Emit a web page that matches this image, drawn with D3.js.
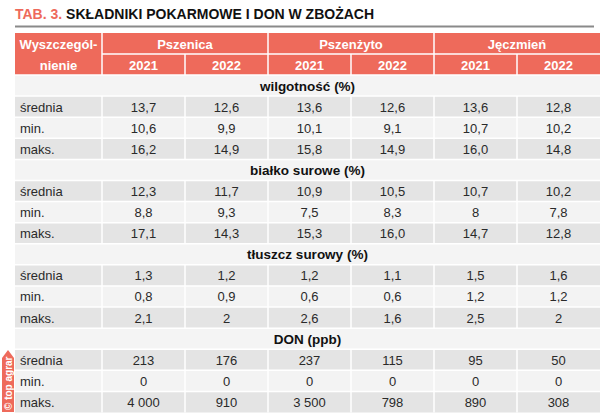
<!DOCTYPE html>
<html><head><meta charset="utf-8">
<script src="https://cdn.jsdelivr.net/npm/d3@7"></script>
<style>body{margin:0;background:#fff}svg{display:block}</style>
</head><body>
<svg id="c" width="600" height="415"></svg>
<script>
const titlePrefix = "TAB. 3.";
const titleText = "SKŁADNIKI POKARMOWE I DON W ZBOŻACH";
const firstHeader = ["Wyszczegól-", "nienie"];
const groups = ["Pszenica", "Pszenżyto", "Jęczmień"];
const years = ["2021", "2022"];
const sections = ["wilgotność (%)", "białko surowe (%)", "tłuszcz surowy (%)", "DON (ppb)"];
const stats = ["średnia", "min.", "maks."];
const wilgotnosc = [
  ["13,7","12,6","13,6","12,6","13,6","12,8"],
  ["10,6","9,9","10,1","9,1","10,7","10,2"],
  ["16,2","14,9","15,8","14,9","16,0","14,8"]];
const bialko = [
  ["12,3","11,7","10,9","10,5","10,7","10,2"],
  ["8,8","9,3","7,5","8,3","8","7,8"],
  ["17,1","14,3","15,3","16,0","14,7","12,8"]];
const tluszcz = [
  ["1,3","1,2","1,2","1,1","1,5","1,6"],
  ["0,8","0,9","0,6","0,6","1,2","1,2"],
  ["2,1","2","2,6","1,6","2,5","2"]];
const don = [
  ["213","176","237","115","95","50"],
  ["0","0","0","0","0","0"],
  ["4 000","910","3 500","798","890","308"]];
const sectionValues = [wilgotnosc, bialko, tluszcz, don];
const watermark = "© top agrar";

const svg = d3.select("#c");
const red = "#ee6a5b";
const font = "'Liberation Sans', Arial, sans-serif";
const L = 15, R = 600, C1 = 102;

// title
const t = svg.append("text").attr("x", L).attr("y", 18.5)
  .attr("font-family", font).attr("font-size", 14).attr("font-weight", "bold");
t.append("tspan").attr("fill", red).text(titlePrefix + " ");
t.append("tspan").attr("fill", "#111").text(titleText);
svg.append("line").attr("x1", L).attr("x2", 594).attr("y1", 26.5).attr("y2", 26.5)
  .attr("stroke", "#8a8a8a").attr("stroke-width", 2);

// scales
const colKeys = d3.range(groups.length * years.length);
const x = d3.scaleBand().domain(colKeys).range([C1, R]);
const xg = d3.scaleBand().domain(groups).range([C1, R]);
const rows = [];
sections.forEach((s, si) => {
  rows.push({type: "section", label: s});
  stats.forEach((st, ri) => rows.push({type: "data", label: st, ri, vals: sectionValues[si][ri]}));
});
const y = d3.scaleBand().domain(d3.range(rows.length)).range([75, 412.5]);
const yh = d3.scaleBand().domain([0, 1]).range([33, 75]);

// header
const hdr = svg.append("g");
hdr.append("rect").attr("x", L).attr("y", yh(0)).attr("width", C1 - L).attr("height", yh.bandwidth() * 2).attr("fill", red);
groups.forEach(g => {
  hdr.append("rect").attr("x", xg(g)).attr("y", yh(0)).attr("width", xg.bandwidth()).attr("height", yh.bandwidth()).attr("fill", red);
  hdr.append("text").attr("x", xg(g) + xg.bandwidth() / 2).attr("y", yh(0) + yh.bandwidth() / 2 + 5)
    .attr("text-anchor", "middle").attr("fill", "#fff").attr("font-family", font).attr("font-size", 13).attr("font-weight", "bold").text(g);
});
colKeys.forEach(k => {
  hdr.append("rect").attr("x", x(k)).attr("y", yh(1)).attr("width", x.bandwidth()).attr("height", yh.bandwidth()).attr("fill", red);
  hdr.append("text").attr("x", x(k) + x.bandwidth() / 2).attr("y", yh(1) + yh.bandwidth() / 2 + 5)
    .attr("text-anchor", "middle").attr("fill", "#fff").attr("font-family", font).attr("font-size", 13).attr("font-weight", "bold").text(years[k % years.length]);
});
firstHeader.forEach((line, i) => {
  hdr.append("text").attr("x", (L + C1) / 2).attr("y", yh(i) + yh.bandwidth() / 2 + 5)
    .attr("text-anchor", "middle").attr("fill", "#fff").attr("font-family", font).attr("font-size", 13).attr("font-weight", "bold").text(line);
});

// body
const body = svg.append("g");
rows.forEach((r, i) => {
  if (r.type === "section") {
    body.append("rect").attr("x", L).attr("y", y(i)).attr("width", R - L).attr("height", y.bandwidth()).attr("fill", "#f4f4f4");
    body.append("text").attr("x", (L + R) / 2).attr("y", y(i) + y.bandwidth() / 2 + 5)
      .attr("text-anchor", "middle").attr("fill", "#111").attr("font-family", font).attr("font-size", 13.5).attr("font-weight", "bold").text(r.label);
  } else {
    const fill = r.ri === 1 ? "#f3f3f3" : "#e4e4e4";
    body.append("rect").attr("x", L).attr("y", y(i)).attr("width", C1 - L).attr("height", y.bandwidth()).attr("fill", fill);
    body.append("text").attr("x", L + 5).attr("y", y(i) + y.bandwidth() / 2 + 5)
      .attr("fill", "#2a2a2a").attr("font-family", font).attr("font-size", 13).text(r.label);
    colKeys.forEach(k => {
      body.append("rect").attr("x", x(k)).attr("y", y(i)).attr("width", x.bandwidth()).attr("height", y.bandwidth()).attr("fill", fill);
      body.append("text").attr("x", x(k) + x.bandwidth() / 2).attr("y", y(i) + y.bandwidth() / 2 + 5)
        .attr("text-anchor", "middle").attr("fill", "#2a2a2a").attr("font-family", font).attr("font-size", 13).text(r.vals[k]);
    });
  }
});

// grid lines (white)
const grid = svg.append("g").attr("stroke", "#fff").attr("stroke-width", 1.5);
grid.append("line").attr("x1", C1).attr("x2", R).attr("y1", yh(1)).attr("y2", yh(1));
grid.append("line").attr("x1", L).attr("x2", R).attr("y1", 75).attr("y2", 75);
rows.forEach((r, i) => { if (i > 0) grid.append("line").attr("x1", L).attr("x2", R).attr("y1", y(i)).attr("y2", y(i)); });
[C1].concat(groups.slice(1).map(g => xg(g))).forEach(xx =>
  grid.append("line").attr("x1", xx).attr("x2", xx).attr("y1", yh(0)).attr("y2", 75));
colKeys.slice(1).forEach(k => { if (k % years.length) grid.append("line").attr("x1", x(k)).attr("x2", x(k)).attr("y1", yh(1)).attr("y2", 75); });
rows.forEach((r, i) => {
  if (r.type === "data") {
    [C1].concat(colKeys.slice(1).map(k => x(k))).forEach(xx =>
      grid.append("line").attr("x1", xx).attr("x2", xx).attr("y1", y(i)).attr("y2", y(i) + y.bandwidth()));
  }
});

// watermark
const wm = svg.append("g");
wm.append("path").attr("d", "M2,358 L8,350 L14,358 L14,412 L2,412 Z").attr("fill", red);
wm.append("text").attr("transform", "translate(12,410) rotate(-90)")
  .attr("fill", "#fff").attr("font-family", font).attr("font-size", 10).attr("font-weight", "bold").text(watermark);
</script>
</body></html>
